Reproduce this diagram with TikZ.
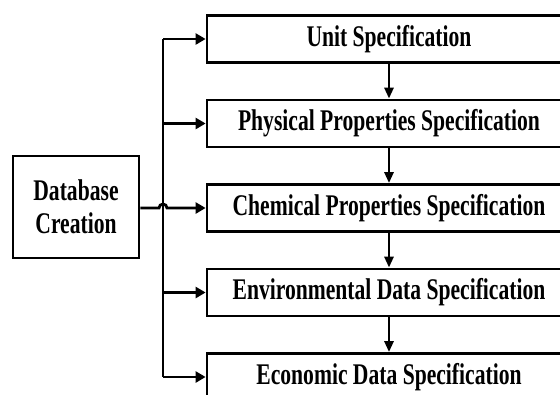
\documentclass[tikz,border=0pt]{standalone}
\usepackage{fontspec}
\setmainfont{Liberation Serif}[FakeStretch=0.72]
\usetikzlibrary{arrows.meta,calc}
\begin{document}
\begin{tikzpicture}[x=1pt,y=-1pt,
  line width=2.8pt,
  specbox/.style={draw,rectangle,minimum width=364pt,minimum height=47pt,inner sep=0pt,
    font=\fontsize{30}{33}\selectfont\bfseries},
  dbbox/.style={draw,rectangle,minimum width=126pt,minimum height=102pt,inner sep=0pt,align=center,
    font=\fontsize{30}{33}\selectfont\bfseries},
  harrow/.style={-{Triangle[length=10pt,width=11pt]}},
  varrow/.style={-{Triangle[length=11pt,width=9pt]}}]
\useasboundingbox (0,0) rectangle (560,394);
\clip (0,0) rectangle (560,394);
\node[specbox] (u) at (389,39) {Unit Specification};
\node[specbox] (p) at (389,123.5) {Physical Properties Specification};
\node[specbox] (c) at (389,208) {Chemical Properties Specification};
\node[specbox] (e) at (389,292.5) {Environmental Data Specification};
\node[specbox] (ec) at (389,377) {Economic Data Specification};
\node[dbbox] (db) at (76,207) {Database\\Creation};
\coordinate (tr) at (163,0);
\draw (u.west -| tr) -- (ec.west -| tr);
\draw[harrow] (u.west -| tr) -- (u.west);
\draw[harrow] (p.west -| tr) -- (p.west);
\draw[harrow] (e.west -| tr) -- (e.west);
\draw[harrow] (ec.west -| tr) -- (ec.west);
\draw[harrow] (db.east |- c.west) -- ($(c.west -| tr)+(-4,0)$) arc[start angle=180,end angle=360,radius=4] -- (c.west);
\draw[varrow] (u.south) -- (p.north);
\draw[varrow] (p.south) -- (c.north);
\draw[varrow] (c.south) -- (e.north);
\draw[varrow] (e.south) -- (ec.north);
\end{tikzpicture}
\end{document}
